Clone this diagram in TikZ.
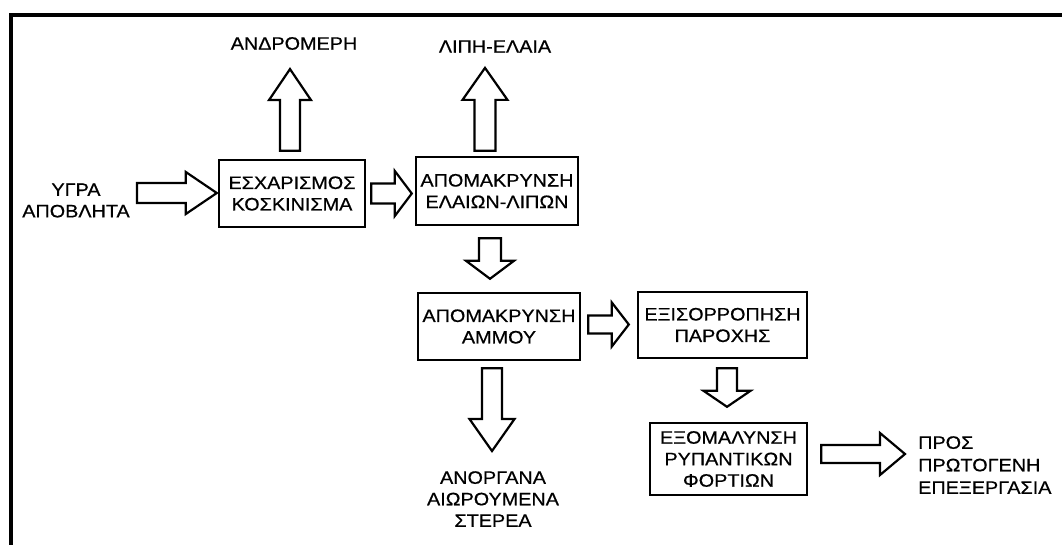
\documentclass[tikz,border=0pt]{standalone}
\usepackage{fontspec}
\setmainfont{Liberation Sans}[FakeStretch=1.1,FakeBold=0.6]
\usetikzlibrary{calc}
\tikzset{
  blk/.style={draw, line width=2.4pt, align=center, inner sep=0pt, font=\fontsize{18}{21.5}\selectfont},
  lbl/.style={inner sep=0pt, align=center, font=\fontsize{18}{21.5}\selectfont},
  fat/.style={draw, line width=2.2pt, fill=white, line join=miter},
  frame/.style={line width=4pt}
}
% rightward block arrow: tail x from #1, tip and y from #2
\newcommand\fatR[5]{\draw[fat] let \p1=#1, \p2=#2 in
  (\x1,\y2+#3) -- (\x2-#5,\y2+#3) -- (\x2-#5,\y2+#4) -- (\x2,\y2) --
  (\x2-#5,\y2-#4) -- (\x2-#5,\y2-#3) -- (\x1,\y2-#3) -- cycle;}
% upward block arrow: x and tail from #1, tip y from #2
\newcommand\fatU[5]{\draw[fat] let \p1=#1, \p2=#2 in
  (\x1+#3,\y1) -- (\x1+#3,\y2-#5) -- (\x1+#4,\y2-#5) -- (\x1,\y2) --
  (\x1-#4,\y2-#5) -- (\x1-#3,\y2-#5) -- (\x1-#3,\y1) -- cycle;}
% downward block arrow
\newcommand\fatD[5]{\draw[fat] let \p1=#1, \p2=#2 in
  (\x1+#3,\y1) -- (\x1+#3,\y2+#5) -- (\x1+#4,\y2+#5) -- (\x1,\y2) --
  (\x1-#4,\y2+#5) -- (\x1-#3,\y2+#5) -- (\x1-#3,\y1) -- cycle;}
\begin{document}
\begin{tikzpicture}[x=1pt,y=-1pt]
\useasboundingbox[fill=white] (0,0) rectangle (1062,544);
\draw[frame] (11,550) -- (11,15) -- (1070,15);

% boxes
\node[blk, minimum width=146, minimum height=67] (box1) at (292,193.5) {ΕΣΧΑΡΙΣΜΟΣ\\ΚΟΣΚΙΝΙΣΜΑ};
\node[blk, minimum width=162, minimum height=68] (box2) at (497,191) {ΑΠΟΜΑΚΡΥΝΣΗ\\ΕΛΑΙΩΝ-ΛΙΠΩΝ};
\node[blk, minimum width=162, minimum height=67] (box3) at (499,326.5) {ΑΠΟΜΑΚΡΥΝΣΗ\\ΑΜΜΟΥ};
\node[blk, minimum width=169, minimum height=66] (box4) at (722.5,325) {ΕΞΙΣΟΡΡΟΠΗΣΗ\\ΠΑΡΟΧΗΣ};
\node[blk, minimum width=157, minimum height=72] (box5) at (728.5,459) {ΕΞΟΜΑΛΥΝΣΗ\\ΡΥΠΑΝΤΙΚΩΝ\\ΦΟΡΤΙΩΝ};

% labels
\node[lbl] (andro) at (294,43.5) {ΑΝΔΡΟΜΕΡΗ};
\node[lbl] (lipi) at (495,46.5) {ΛΙΠΗ-ΕΛΑΙΑ};
\node[lbl] (in) at (76,200.5) {ΥΓΡΑ\\ΑΠΟΒΛΗΤΑ};
\node[lbl] (anorg) at (493,499) {ΑΝΟΡΓΑΝΑ\\ΑΙΩΡΟΥΜΕΝΑ\\ΣΤΕΡΕΑ};
\node[lbl, align=left, anchor=west, font=\fontsize{18}{22.5}\selectfont] (pros) at (918,465) {ΠΡΟΣ\\ΠΡΩΤΟΓΕΝΗ\\ΕΠΕΞΕΡΓΑΣΙΑ};

% block arrows
\fatR{($(in.east)+(7,0)$)}{($(box1.west)+(-1,-0.5)$)}{10pt}{21pt}{31pt}
\fatR{($(box1.east)+(5,0)$)}{($(box2.west)+(-3,2.5)$)}{10pt}{22.5pt}{17pt}
\fatU{($(box1.north)+(-2,-8)$)}{($(andro.south)+(0,19)$)}{10pt}{21pt}{31pt}
\fatU{($(box2.north)+(-12,-5)$)}{($(lipi.south)+(0,15)$)}{10.5pt}{22.5pt}{32pt}
\fatD{($(box2.south)+(-7,12)$)}{($(box3.north)+(0,-13)$)}{11pt}{24pt}{18pt}
\fatR{($(box3.east)+(7,0)$)}{($(box4.west)+(-8,-0.5)$)}{9pt}{22pt}{17pt}
\fatD{($(box3.south)+(-7,7)$)}{($(anorg.north)+(0,-20)$)}{10pt}{22.5pt}{32pt}
\fatD{($(box4.south)+(4.5,9)$)}{($(box5.north)+(0,-15)$)}{10pt}{23.5pt}{16pt}
\fatR{($(box5.east)+(13,0)$)}{($(pros.west)+(-13,-11)$)}{9pt}{21pt}{25pt}
\end{tikzpicture}
\end{document}
